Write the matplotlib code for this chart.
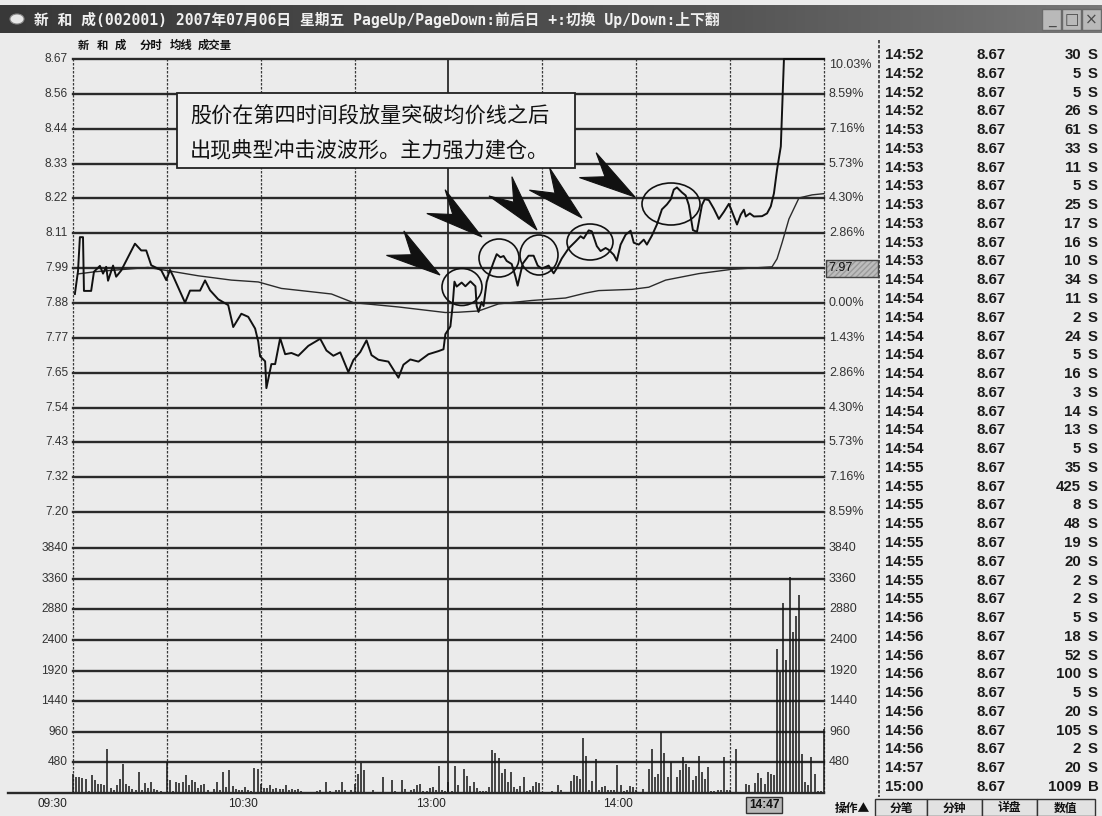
import numpy as np
import matplotlib
matplotlib.use('Agg')
import matplotlib.pyplot as plt
from matplotlib.patches import Rectangle, Ellipse, Polygon
from matplotlib.colors import LinearSegmentedColormap
import matplotlib.transforms as mtrans

plt.rcParams['font.family'] = ['Liberation Sans', 'Noto Sans CJK SC', 'DejaVu Sans']
CJK = ['Noto Sans CJK SC', 'Liberation Sans', 'DejaVu Sans']
MONO = ['DejaVu Sans Mono', 'Noto Sans CJK SC']

# ---------------- data ----------------
title_text = "新 和 成(002001) 2007年07月06日 星期五 PageUp/PageDown:前后日 +:切换 Up/Down:上下翻"
sub_words = ["新", "和", "成", "分时", "均线", "成交量"]
note_lines = ["股价在第四时间段放量突破均价线之后", "出现典型冲击波波形。主力强力建仓。"]

prev_close = 7.88
limit_up = 8.67
price_labels = ['8.67', '8.56', '8.44', '8.33', '8.22', '8.11', '7.99',
                '7.88', '7.77', '7.65', '7.54', '7.43', '7.32', '7.20']
pct_labels = ['10.03%', '8.59%', '7.16%', '5.73%', '4.30%', '2.86%', '1.43%',
              '0.00%', '1.43%', '2.86%', '4.30%', '5.73%', '7.16%', '8.59%']
last_price_label = '7.97'
vol_levels = [3840, 3360, 2880, 2400, 1920, 1440, 960, 480]
time_labels = ['09:30', '10:30', '13:00', '14:00']
time_label_minutes = [0, 60, 120, 180]
cursor_label = '14:47'
cursor_minute = 227

# price line (minutes from 09:30, price)
price_t = [0.6, 1.6, 2.2, 3.2, 3.5, 5.8, 6.7, 8.6, 9.6, 10.6, 11.2, 12.8, 13.8, 15.4,
           19.8, 21.8, 23.4, 25.0, 28.2, 29.8, 31.0, 32.0, 35.8, 37.4, 40.6, 42.2,
           43.8, 46.4, 49.6, 51.2, 53.8, 56.0, 58.2, 59.2, 59.8, 61.4, 61.8, 63.4,
           64.6, 66.2, 67.8, 69.8, 72.0, 75.2, 79.0, 81.0, 83.2, 85.4, 88.0, 89.6,
           91.8, 93.8, 95.4, 97.6, 100.8, 102.4, 104.0, 105.6, 107.8, 110.4, 113.6,
           116.8, 118.4, 119.0, 120.6, 121.3, 121.9, 122.6, 124.2, 125.4, 127.0,
           128.6, 129.0, 129.6, 130.6, 131.2, 132.2, 132.8, 134.4, 135.4, 136.6,
           137.6, 138.6, 140.2, 141.4, 142.1, 143.7, 145.6, 147.2, 148.5, 149.8,
           152.0, 153.6, 154.6, 156.2, 158.4, 160.6, 162.2, 163.2, 164.8, 165.8,
           167.4, 168.6, 170.2, 171.2, 172.8, 173.8, 175.0, 176.6, 178.2, 179.2,
           180.8, 182.4, 183.4, 185.0, 186.6, 188.2, 189.8, 191.0, 192.0, 193.0,
           194.6, 195.8, 196.8, 198.1, 199.4, 201.0, 201.9, 203.2, 204.8, 206.4,
           208.0, 209.6, 210.6, 212.2, 213.4, 214.4, 215.0, 216.3, 217.6, 220.2,
           221.8, 223.0, 224.0, 225.0, 226.2, 227.2, 240.0]
price_v = [7.909, 7.983, 8.093, 8.093, 7.919, 7.919, 7.981, 8.000, 7.975, 7.997, 7.952,
           8.001, 7.965, 7.985, 8.072, 8.050, 8.050, 8.002, 7.986, 7.954, 7.987, 7.967,
           7.881, 7.920, 7.920, 7.953, 7.921, 7.892, 7.873, 7.802, 7.845, 7.835, 7.797,
           7.755, 7.707, 7.691, 7.604, 7.682, 7.682, 7.766, 7.714, 7.718, 7.709, 7.741,
           7.764, 7.726, 7.709, 7.720, 7.656, 7.695, 7.721, 7.759, 7.711, 7.696, 7.690,
           7.664, 7.638, 7.680, 7.697, 7.690, 7.714, 7.724, 7.730, 7.779, 7.804, 7.869,
           7.949, 7.933, 7.946, 7.934, 7.950, 7.934, 7.870, 7.851, 7.883, 7.870, 7.948,
           7.967, 8.012, 8.038, 8.028, 8.032, 8.016, 8.006, 7.965, 7.936, 8.007, 8.033,
           8.033, 8.001, 7.991, 8.001, 7.976, 7.992, 8.024, 8.057, 8.079, 8.096, 8.089,
           8.115, 8.112, 8.064, 8.048, 8.058, 8.052, 8.036, 8.017, 8.069, 8.101, 8.114,
           8.075, 8.069, 8.085, 8.069, 8.098, 8.134, 8.183, 8.199, 8.215, 8.247, 8.254,
           8.238, 8.228, 8.197, 8.116, 8.110, 8.197, 8.216, 8.213, 8.185, 8.152, 8.175,
           8.201, 8.176, 8.134, 8.166, 8.182, 8.160, 8.170, 8.160, 8.161, 8.170, 8.193,
           8.235, 8.312, 8.387, 8.670, 8.670]

# average price line
avg_t = [1.6, 7.0, 24.0, 29.4, 40.0, 50.6, 59.2, 66.6, 72.0, 82.6, 89.6, 104.0, 119.0,
         123.2, 129.6, 136.0, 146.6, 157.4, 163.8, 168.0, 178.6, 184.0, 189.4, 200.0,
         210.6, 223.4, 225.0, 226.6, 228.8, 232.0, 236.2, 240.0]
avg_v = [7.974, 7.981, 7.995, 7.986, 7.968, 7.954, 7.948, 7.927, 7.921, 7.909, 7.881,
         7.867, 7.849, 7.850, 7.854, 7.877, 7.888, 7.896, 7.912, 7.920, 7.924, 7.931,
         7.954, 7.975, 7.989, 7.997, 8.023, 8.075, 8.152, 8.220, 8.230, 8.234]

# per-minute volume (lots), minute 0 .. 240
volume = [300, 250, 250, 234, 223, 30, 275, 198, 145, 145, 120, 690, 83, 52, 120, 223, 457, 145, 104, 68,
          52, 328, 40, 156, 83, 172, 68, 42, 31, 20, 484, 198, 30, 172, 156, 172, 275, 120, 208, 172,
          83, 120, 135, 42, 20, 68, 172, 52, 328, 94, 354, 104, 68, 42, 52, 94, 42, 30, 395, 380,
          145, 83, 83, 120, 68, 83, 68, 68, 120, 42, 68, 52, 68, 26, 21, 21, 21, 21, 31, 42,
          20, 172, 26, 21, 42, 42, 172, 52, 20, 52, 145, 300, 468, 354, 21, 20, 52, 16, 16, 250,
          16, 20, 208, 26, 16, 198, 68, 16, 42, 68, 120, 145, 30, 25, 76, 100, 50, 418, 40, 30,
          180, 30, 420, 130, 20, 370, 268, 107, 167, 84, 30, 25, 25, 100, 670, 630, 556, 310, 380, 167,
          327, 90, 60, 106, 252, 30, 40, 106, 167, 150, 15, 15, 15, 30, 15, 120, 45, 15, 15, 190,
          290, 266, 213, 862, 573, 40, 182, 532, 50, 90, 110, 50, 40, 50, 440, 130, 30, 40, 106, 100,
          40, 20, 60, 20, 380, 684, 243, 304, 957, 623, 243, 480, 20, 243, 365, 562, 450, 410, 207, 274,
          578, 334, 213, 410, 30, 30, 40, 40, 562, 50, 50, 15, 684, 15, 15, 137, 122, 15, 163, 312,
          228, 137, 334, 296, 289, 2265, 1900, 2973, 2080, 3390, 2520, 2780, 3100, 610, 167, 122, 562, 304, 30, 30,
          1009]

# tick-by-tick table
tick_time = ['14:52', '14:52', '14:52', '14:52', '14:53', '14:53', '14:53', '14:53', '14:53', '14:53',
             '14:53', '14:53', '14:54', '14:54', '14:54', '14:54', '14:54', '14:54', '14:54', '14:54',
             '14:54', '14:54', '14:55', '14:55', '14:55', '14:55', '14:55', '14:55', '14:55', '14:55',
             '14:56', '14:56', '14:56', '14:56', '14:56', '14:56', '14:56', '14:56', '14:57', '15:00']
tick_price = ['8.67'] * 40
tick_vol = [30, 5, 5, 26, 61, 33, 11, 5, 25, 17, 16, 10, 34, 11, 2, 24, 5, 16, 3, 14,
            13, 5, 35, 425, 8, 48, 19, 20, 2, 2, 5, 18, 52, 100, 5, 20, 105, 2, 20, 1009]
tick_side = ['S'] * 39 + ['B']
buttons = ['分笔', '分钟', '详盘', '数值']
op_label = '操作▲'

# ---------------- layout ----------------
W, H = 1102, 816
BG = '#ebebeb'
GRID = '#2a2a2a'
LBL = '#333333'

fig = plt.figure(figsize=(W / 100, H / 100), dpi=100, facecolor=BG)


def ax_px(x0, y0, x1, y1, z=1):
    return fig.add_axes([x0 / W, 1 - y1 / H, (x1 - x0) / W, (y1 - y0) / H], zorder=z)


X0, X1 = 73, 824
PY0 = 59
ROW = 34.85
PY1 = PY0 + 13 * ROW
VY0 = PY1 + 36
VY1 = 793
step = (limit_up - prev_close) / 7
levels = [prev_close + (7 - i) * step for i in range(14)]

# background axes with vertical grid
bg = ax_px(X0, PY0, X1, VY1, z=1)
bg.set_xlim(0, 240)
bg.set_ylim(0, 1)
bg.axis('off')
for t in range(0, 241, 30):
    if t == 120:
        bg.axvline(t, color=GRID, lw=1.3, clip_on=False)
    else:
        bg.axvline(t, color='#3a3a3a', lw=0.9, ls=(0, (2, 1.2)), clip_on=False)

# price axes
pa = ax_px(X0, PY0, X1, PY1, z=2)
pa.patch.set_alpha(0)
pa.set_xlim(0, 240)
pa.set_ylim(levels[-1], levels[0])
pa.axis('off')
bl = mtrans.blended_transform_factory(pa.transAxes, pa.transData)
for i, lv in enumerate(levels):
    pa.axhline(lv, color=GRID, lw=1.7, clip_on=False)
    pa.text(-5 / (X1 - X0), lv, price_labels[i], transform=bl, ha='right', va='center',
            fontsize=8.6, color=LBL)
    if i != 6:
        dy = -6 if i == 0 else 0
        pa.annotate(pct_labels[i], (1 + 5 / (X1 - X0), lv), xycoords=bl, xytext=(0, dy),
                    textcoords='offset pixels', ha='left', va='center', fontsize=9, color=LBL)
pa.plot(avg_t, avg_v, color='#2b2b2b', lw=1.0, clip_on=False, zorder=3)
pa.plot(price_t, price_v, color='#111111', lw=1.4, clip_on=False, zorder=4)

# volume axes
va = ax_px(X0, VY0, X1, VY1, z=2)
va.patch.set_alpha(0)
va.set_xlim(0, 240)
va.set_ylim(0, 3840)
va.axis('off')
bv = mtrans.blended_transform_factory(va.transAxes, va.transData)
for lv in vol_levels:
    va.axhline(lv, color=GRID, lw=1.7, clip_on=False)
    va.text(-5 / (X1 - X0), lv, str(lv), transform=bv, ha='right', va='center',
            fontsize=8.6, color=LBL)
    va.text(1 + 5 / (X1 - X0), lv, str(lv), transform=bv, ha='left', va='center',
            fontsize=9, color=LBL)
va.vlines(np.arange(len(volume)), 0, volume, color='#151515', lw=1.1, clip_on=False)

# overlay in pixel coordinates
ov = ax_px(0, 0, W, H, z=5)
ov.patch.set_alpha(0)
ov.axis('off')
grad = LinearSegmentedColormap.from_list('tb', ['#383838', '#474747', '#555555', '#787878'])
ov.imshow(np.linspace(0, 1, 256)[None, :], extent=(0, W, 33, 5), cmap=grad, aspect='auto', zorder=1)
ov.set_xlim(0, W)
ov.set_ylim(H, 0)

# title icon and text
ov.add_patch(Ellipse((17, 19), 14, 10, facecolor='#e8e8e8', edgecolor='#888888', lw=0.8, zorder=2))
ov.text(34, 19.5, title_text, color='#f0f0f0', fontsize=10.6, va='center', ha='left',
        family=MONO, fontweight='bold', zorder=3)
# window buttons
for bx, sym in [(1042, '_'), (1062, '□'), (1082, '×')]:
    ov.add_patch(Rectangle((bx, 9), 19, 21, facecolor='#b9b9b9', edgecolor='#6a6a6a', lw=1, zorder=2))
    ov.text(bx + 9.5, 19.5, sym, ha='center', va='center', fontsize=11, color='#4a4a4a',
            family=['DejaVu Sans'], zorder=3)

# subtitle words
for wd, sx in zip(sub_words, [78, 97, 115, 140, 170, 198]):
    ov.text(sx, 45, wd, fontsize=8.2, fontweight='bold', family=CJK, color='#111111',
            va='center', ha='left')

# bottom baseline line
ov.plot([8, X1], [VY1, VY1], color=GRID, lw=1.7)
# table separator line
ov.plot([879, 879], [40, 797], color='#333333', lw=1.2, ls=(0, (2, 1)))

# annotation box
ov.add_patch(Rectangle((177, 93), 398, 75, facecolor='#eeeeee', edgecolor='#222222', lw=1.3, zorder=6))
ov.text(190, 117, note_lines[0], fontsize=15.2, family=CJK, color='#111111', va='center', ha='left', zorder=7)
ov.text(190, 150, note_lines[1], fontsize=15.2, family=CJK, color='#111111', va='center', ha='left', zorder=7)

# arrows (tip, back-centre) and ellipses
arrow_geo = [((440, 275), (402, 248)), ((482, 237), (443, 207)), ((537, 230), (506, 193)),
             ((582, 218), (546, 185)), ((635, 197), (595, 170))]
for tip, back in arrow_geo:
    tip = np.array(tip, float)
    back = np.array(back, float)
    d = tip - back
    L = np.hypot(*d)
    u = d / L
    n = np.array([-u[1], u[0]])
    pts = [tip, back - 0.18 * L * u + n * 15, back + 0.25 * L * u, back - 0.18 * L * u - n * 15]
    ov.add_patch(Polygon(pts, closed=True, facecolor='#111111', edgecolor='#111111', lw=0.8, zorder=6))

ell_geo = [((462, 287), 40, 37), ((499, 258), 40, 38), ((539, 255), 38, 40),
           ((590, 242), 46, 36), ((671, 204), 58, 42)]
for c, w, h in ell_geo:
    ov.add_patch(Ellipse(c, w, h, facecolor='none', edgecolor='#111111', lw=1.2, zorder=6))

# last price box on right axis
y797 = PY0 + 6 * ROW
ov.add_patch(Rectangle((826, y797 - 8.5), 52, 17, facecolor='#bdbdbd', edgecolor='#9a9a9a',
                       lw=0, hatch='//////', zorder=3))
ov.add_patch(Rectangle((826, y797 - 8.5), 52, 17, facecolor='none', edgecolor='#444444',
                       lw=1, zorder=3))
ov.text(828, y797, last_price_label, fontsize=9, color='#111111', va='center', ha='left', zorder=4)

# time labels
for lab, m in zip(time_labels, time_label_minutes):
    xx = X0 + m * (X1 - X0) / 240
    ov.text(xx - 3 if m else xx - 6, 804, lab, ha='right', va='center', fontsize=8.6, color='#222222')
cx = X0 + cursor_minute * (X1 - X0) / 240
ov.add_patch(Rectangle((cx - 37, 797), 36, 16, facecolor='#b8b8b8', edgecolor='#333333', lw=1, zorder=3))
ov.text(cx - 19, 805, cursor_label, ha='center', va='center', fontsize=8.6, fontweight='bold',
        color='#111111', zorder=4)

# tick table
for i in range(len(tick_time)):
    yy = 55 + i * (787 - 55) / 39
    ov.text(885, yy, tick_time[i], fontsize=10.8, fontweight='bold', color='#1a1a1a', va='center', ha='left')
    ov.text(991, yy, tick_price[i], fontsize=10.8, fontweight='bold', color='#1a1a1a', va='center', ha='center')
    ov.text(1081, yy, str(tick_vol[i]), fontsize=10.8, fontweight='bold', color='#1a1a1a', va='center', ha='right')
    ov.text(1093, yy, tick_side[i], fontsize=10.8, fontweight='bold', color='#1a1a1a', va='center', ha='center')

# bottom buttons
ov.text(852, 808, op_label, fontsize=8.5, fontweight='bold', family=CJK, color='#111111', ha='center', va='center')
bxs = [875, 927, 982, 1037, 1095]
for i, lab in enumerate(buttons):
    ov.add_patch(Rectangle((bxs[i], 799), bxs[i + 1] - bxs[i], 17, facecolor='#e2e2e2',
                           edgecolor='#333333', lw=1, zorder=3))
    ov.text((bxs[i] + bxs[i + 1]) / 2, 808, lab, fontsize=8.5, fontweight='bold', family=CJK,
            color='#111111', ha='center', va='center', zorder=4)

fig.savefig('out.png', dpi=100, facecolor=BG)
